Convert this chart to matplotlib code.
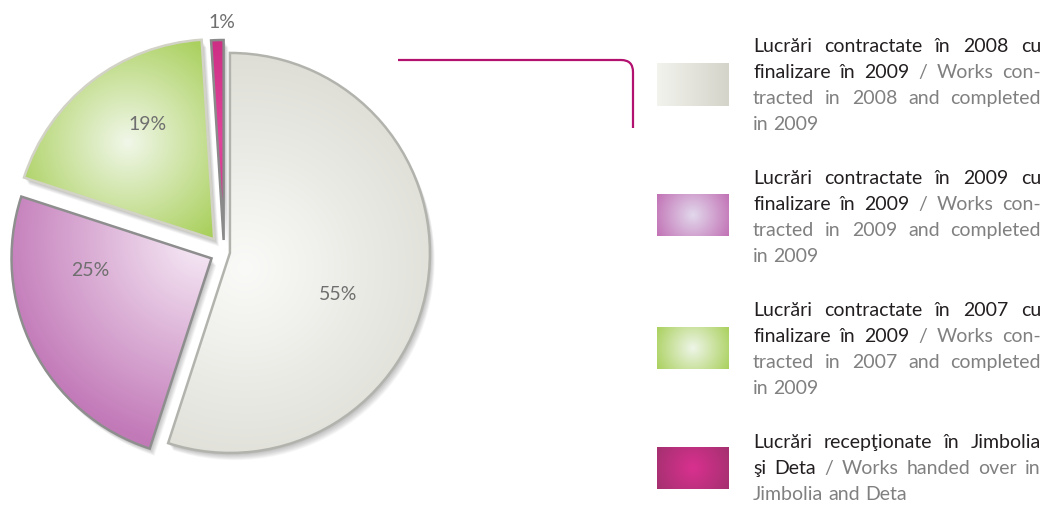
import numpy as np
import matplotlib
matplotlib.use("Agg")
import matplotlib.pyplot as plt
from matplotlib.patches import Wedge, PathPatch
from matplotlib.path import Path
from matplotlib.colors import to_rgb

plt.rcParams['font.family'] = ['Lato', 'DejaVu Sans']

# data
values = [55, 25, 19, 1]
legend_ro = [
    "Lucrări contractate în 2008 cu\nfinalizare în 2009",
    "Lucrări contractate în 2009 cu\nfinalizare în 2009",
    "Lucrări contractate în 2007 cu\nfinalizare în 2009",
    "Lucrări recepţionate în Jimbolia\nşi Deta",
]
legend_en = [
    "Works con-\ntracted in 2008 and completed\nin 2009",
    "Works con-\ntracted in 2009 and completed\nin 2009",
    "Works con-\ntracted in 2007 and completed\nin 2009",
    "Works handed over in\nJimbolia and Deta",
]

# styling
W, H = 1045, 505
inner = ['#fafaf8', '#f8eef8', '#f1f7e9', '#e2459c']
outer = ['#dcdcd4', '#c279b8', '#a8cf5a', '#c92a80']
edges = ['#b3b3ae', '#8e8e8e', '#d2d2c6', '#8a8a8a']
grad_c = [(245, 268), (205, 238), (128, 142), (221, 140)]   # pixel coords
grad_r = [230, 210, 125, 120]
explode = [6, 14, 16, 12]
label_pos = [(338, 295), (90, 271), (148, 124), (222, 22)]
sw_top = [63, 194, 327, 447]
sw_bot = [106, 236, 369, 489]
sw_inner = ['#f3f3ee', '#e2d8ec', '#eef5e8', '#d9318f']
sw_outer = ['#d4d4ca', '#c170b4', '#a9d05b', '#a3306f']
first_base = [52, 184, 316, 448]
BLACK, GRAY = '#231f20', '#808080'


def Y(y):
    return H - y


def radial(cx, cy, r, c_in, c_out, x0, x1, y0, y1):
    X, YY = np.meshgrid(np.arange(x0, x1) + 0.5, np.arange(y0, y1) + 0.5)
    t = np.clip(np.hypot(X - cx, YY - cy) / r, 0, 1)[..., None]
    return (1 - t) * np.array(to_rgb(c_in)) + t * np.array(to_rgb(c_out))


fig = plt.figure(figsize=(W / 100, H / 100), dpi=100, facecolor='white')
ax = fig.add_axes([0, 0, 1, 1])

wedges, _ = ax.pie(values, explode=explode, startangle=90, counterclock=False,
                   radius=200, center=(224, Y(252)),
                   wedgeprops=dict(facecolor='none', linewidth=0))

for i, w in enumerate(wedges):
    cx, cy = w.center
    # soft drop shadow
    for k in range(1, 9):
        ax.add_patch(Wedge((cx + k * 0.6, cy - k * 0.9), w.r, w.theta1, w.theta2,
                           color='black', alpha=0.035, lw=0, zorder=1))
    gx, gy = grad_c[i]
    img = radial(gx, Y(gy), grad_r[i], inner[i], outer[i], 0, 450, 0, H)
    im = ax.imshow(img, extent=(0, 450, 0, H), origin='lower', zorder=2,
                   interpolation='bilinear')
    im.set_clip_path(w)
    w.set_edgecolor(edges[i])
    w.set_linewidth(1.8)
    w.set_zorder(3)

for v, (lx, ly) in zip(values, label_pos):
    ax.text(lx, Y(ly), f"{v}%", fontsize=14, color='#6f6f6f',
            ha='center', va='center', zorder=5)

# connector line
verts = [(398, Y(60)), (621, Y(60)), (633, Y(60)), (633, Y(72)), (633, Y(128))]
codes = [Path.MOVETO, Path.LINETO, Path.CURVE3, Path.CURVE3, Path.LINETO]
ax.add_patch(PathPatch(Path(verts, codes), fill=False, edgecolor='#b3116f',
                       lw=1.6, capstyle='butt'))

# legend swatches
for i in range(4):
    x0, x1, y0, y1 = 657, 729, Y(sw_bot[i]), Y(sw_top[i])
    if i == 0:
        t = np.linspace(0, 1, x1 - x0)[None, :, None]
        img = (1 - t) * np.array(to_rgb(sw_inner[0])) + t * np.array(to_rgb(sw_outer[0]))
        img = np.repeat(img, y1 - y0, axis=0)
    else:
        img = radial((x0 + x1) / 2, (y0 + y1) / 2, 42, sw_inner[i], sw_outer[i],
                     x0, x1, y0, y1)
    ax.imshow(img, extent=(x0, x1, y0, y1), origin='lower', zorder=2,
              interpolation='bilinear')

# legend text, justified by hand
renderer = fig.canvas.get_renderer()
tx0, tx1 = 753, 1041


def text_w(s):
    t = ax.text(0, 0, s, fontsize=14)
    wd = t.get_window_extent(renderer).width
    t.remove()
    return wd


space = text_w("n n") - text_w("nn")

for i in range(4):
    ro = legend_ro[i].split('\n')
    en = legend_en[i].split('\n')
    lines = [[(wd, BLACK) for wd in l.split()] for l in ro]
    lines[-1] += [('/', GRAY)] + [(wd, GRAY) for wd in en[0].split()]
    lines += [[(wd, GRAY) for wd in l.split()] for l in en[1:]]
    for j, toks in enumerate(lines):
        yb = Y(first_base[i] + 26 * j)
        arts, ws = [], []
        for wd, col in toks:
            t = ax.text(0, yb, wd, fontsize=14, color=col, ha='left', va='baseline')
            arts.append(t)
            ws.append(t.get_window_extent(renderer).width)
        if j < len(lines) - 1 and len(toks) > 1:
            gap = (tx1 - tx0 - sum(ws)) / (len(toks) - 1)
        else:
            gap = space
        x = tx0
        for t, wd in zip(arts, ws):
            t.set_x(x)
            x += wd + gap

ax.set_xlim(0, W)
ax.set_ylim(0, H)
ax.set_aspect('auto')
ax.axis('off')
fig.savefig('out.png', dpi=100, facecolor='white')
